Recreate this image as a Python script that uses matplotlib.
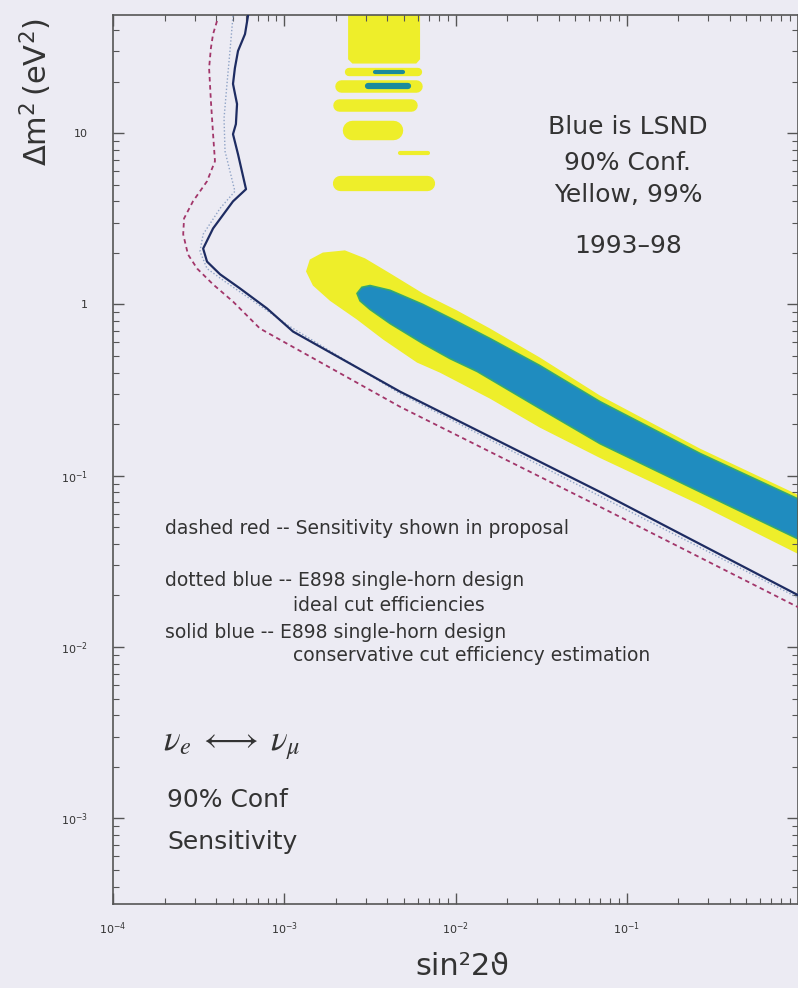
import numpy as np
import matplotlib.pyplot as plt

# sensitivity curves (sin^2 2theta, dm^2)
solid_x = [6.14e-4, 5.90e-4, 5.37e-4, 5.15e-4, 5.02e-4, 5.30e-4, 5.22e-4, 5.02e-4,
           5.37e-4, 5.98e-4, 5.02e-4, 3.84e-4, 3.36e-4, 3.54e-4, 4.22e-4, 5.52e-4,
           7.93e-4, 1.125e-3, 4.74e-3, 6.98e-2, 1.0]
solid_y = [48.3, 37.9, 30.2, 24.0, 19.4, 14.8, 11.3, 9.87,
           7.54, 4.71, 4.00, 2.78, 2.12, 1.78, 1.50, 1.24,
           0.948, 0.695, 0.310, 0.0805, 0.0201]

dotted_x = [5.02e-4, 4.82e-4, 4.63e-4, 4.45e-4, 4.51e-4, 5.15e-4, 4.22e-4, 3.36e-4,
            3.22e-4, 3.54e-4, 4.51e-4, 6.31e-4, 1.08e-3, 4.74e-3, 1.0]
dotted_y = [48.3, 30.2, 19.4, 12.2, 7.85, 4.58, 3.64, 2.57,
            2.04, 1.62, 1.36, 1.08, 0.743, 0.302, 0.0194]

dashed_x = [4.05e-4, 3.84e-4, 3.73e-4, 3.64e-4, 3.73e-4, 3.84e-4, 3.94e-4, 3.54e-4,
            2.93e-4, 2.60e-4, 2.57e-4, 2.74e-4, 3.10e-4, 3.84e-4, 5.02e-4, 7.21e-4,
            4.74e-3, 6.98e-2, 1.0]
dashed_y = [45.2, 37.9, 31.4, 24.0, 15.4, 9.87, 6.86, 5.24,
            4.00, 3.18, 2.57, 1.96, 1.62, 1.31, 1.04, 0.724,
            0.253, 0.0659, 0.0171]

# LSND allowed band, polygon outlines
lsnd90_x = [2.66e-3, 2.84e-3, 3.17e-3, 4.15e-3, 6.46e-3, 1.02e-2, 1.59e-2, 3.11e-2,
            6.98e-2, 0.268, 1.0,
            1.0, 0.268, 6.98e-2, 3.11e-2, 1.34e-2, 9.29e-3, 6.46e-3, 4.15e-3,
            3.17e-3, 2.77e-3]
lsnd90_y = [1.16, 1.26, 1.29, 1.21, 1.00, 0.796, 0.633, 0.440,
            0.271, 0.135, 0.0733,
            0.0428, 0.0805, 0.154, 0.247, 0.406, 0.483, 0.591, 0.774,
            0.935, 1.05]

lsnd99_x = [1.34e-3, 1.41e-3, 1.68e-3, 2.26e-3, 2.96e-3, 4.15e-3, 6.46e-3, 1.02e-2,
            1.59e-2, 3.11e-2, 6.98e-2, 0.268, 1.0,
            1.0, 0.268, 6.98e-2, 3.11e-2, 1.59e-2, 8.11e-3, 5.96e-3, 3.78e-3,
            2.66e-3, 1.85e-3, 1.47e-3]
lsnd99_y = [1.56, 1.83, 2.01, 2.07, 1.86, 1.52, 1.16, 0.923,
            0.724, 0.490, 0.294, 0.144, 0.0774,
            0.0350, 0.0676, 0.127, 0.191, 0.282, 0.400, 0.458, 0.624,
            0.816, 1.05, 1.29]

# high dm^2 islands
col99_x = [2.36e-3, 2.36e-3, 2.5e-3, 5.9e-3, 6.21e-3, 6.21e-3]
col99_y = [60, 27, 25.5, 25.5, 27, 60]

stripe99_x0 = [2.39e-3, 2.14e-3, 2.09e-3, 2.49e-3, 4.74e-3, 2.12e-3]
stripe99_x1 = [6.04e-3, 5.88e-3, 5.50e-3, 4.32e-3, 6.91e-3, 6.82e-3]
stripe99_y = [22.7, 18.8, 14.6, 10.5, 7.64, 5.10]
stripe99_w = [6, 9, 9, 14, 3, 11]

stripe90_x0 = [3.39e-3, 3.08e-3]
stripe90_x1 = [4.94e-3, 5.28e-3]
stripe90_y = [22.7, 18.8]
stripe90_w = [3, 4.5]

xticks = [1e-4, 1e-3, 1e-2, 1e-1]
xticklabels = [r'$10^{-4}$', r'$10^{-3}$', r'$10^{-2}$', r'$10^{-1}$']
yticks = [1e-3, 1e-2, 1e-1, 1, 10]
yticklabels = [r'$10^{-3}$', r'$10^{-2}$', r'$10^{-1}$', '1', '10']

bg = '#ecebf3'
yellow = '#eeee2a'
blue = '#1f8cbf'
ink = '#333333'

fig = plt.figure(figsize=(7.98, 9.88), dpi=100, facecolor=bg)
ax = fig.add_axes([113 / 798, 1 - 904 / 988, 685 / 798, 889 / 988])
ax.set_facecolor(bg)
ax.set_xscale('log')
ax.set_yscale('log')
ax.set_xlim(1e-4, 1.0)
ax.set_ylim(10 ** -3.5, 10 ** 1.69)

# LSND regions
ax.fill(lsnd99_x, lsnd99_y, color=yellow, lw=0, zorder=1)
ax.fill(col99_x, col99_y, color=yellow, lw=0, zorder=1)
for x0, x1, y, w in zip(stripe99_x0, stripe99_x1, stripe99_y, stripe99_w):
    ax.plot([x0, x1], [y, y], color=yellow, lw=w, solid_capstyle='round', zorder=1)
ax.fill(lsnd90_x, lsnd90_y, facecolor=blue, edgecolor='#35a870', lw=1.2, zorder=2)
for x0, x1, y, w in zip(stripe90_x0, stripe90_x1, stripe90_y, stripe90_w):
    ax.plot([x0, x1], [y, y], color='#1b8a9c', lw=w, solid_capstyle='round', zorder=2)

# sensitivity curves
ax.plot(dotted_x, dotted_y, color='#8fa3c6', lw=1.0, ls=(0, (1, 1.5)), zorder=3)
ax.plot(solid_x, solid_y, color='#1e2c62', lw=1.6, zorder=4)
ax.plot(dashed_x, dashed_y, color='#a2366a', lw=1.3, ls=(0, (2.5, 2)), zorder=4)

# axes cosmetics
ax.set_xticks(xticks)
ax.set_xticklabels(xticklabels)
ax.set_yticks(yticks)
ax.set_yticklabels(yticklabels)
ax.tick_params(which='both', direction='in', top=True, right=True, colors='#555555',
               labelcolor=ink)
ax.tick_params(which='major', length=8, width=1, labelsize=8)
ax.tick_params(axis='x', which='major', pad=12)
ax.tick_params(axis='y', which='major', pad=18)
ax.tick_params(which='minor', length=4, width=0.8)
for s in ax.spines.values():
    s.set_color('#555555')
    s.set_linewidth(1.2)

fig.text(36 / 798, 1 - 92 / 988, r'$\Delta\mathregular{m}^2\,(\mathregular{eV}^2)$',
         rotation=90, ha='center', va='center', fontsize=22, color=ink)
fig.text(462 / 798, 1 - 966 / 988, 'sin²2ϑ', ha='center', va='center',
         fontsize=22, color=ink)

# annotations
lsnd_lines = ['Blue is LSND', '90% Conf.', 'Yellow, 99%', '1993–98']
for txt, py in zip(lsnd_lines, [127, 163, 195, 246]):
    fig.text(628 / 798, 1 - py / 988, txt, ha='center', va='center', fontsize=18, color=ink)

notes = [(165, 528, 'dashed red -- Sensitivity shown in proposal'),
         (165, 580, 'dotted blue -- E898 single-horn design'),
         (293, 605, 'ideal cut efficiencies'),
         (165, 632, 'solid blue -- E898 single-horn design'),
         (293, 655, 'conservative cut efficiency estimation')]
for px, py, txt in notes:
    fig.text(px / 798, 1 - py / 988, txt, ha='left', va='center', fontsize=13.5, color=ink)

fig.text(163 / 798, 1 - 745 / 988, r'$\nu_e\;\longleftrightarrow\;\nu_\mu$', ha='left',
         va='center', fontsize=25, color=ink, math_fontfamily='stix')
fig.text(167 / 798, 1 - 800 / 988, '90% Conf', ha='left', va='center', fontsize=18, color=ink)
fig.text(167 / 798, 1 - 842 / 988, 'Sensitivity', ha='left', va='center', fontsize=18, color=ink)

fig.savefig('out.png', dpi=100, facecolor=bg)
